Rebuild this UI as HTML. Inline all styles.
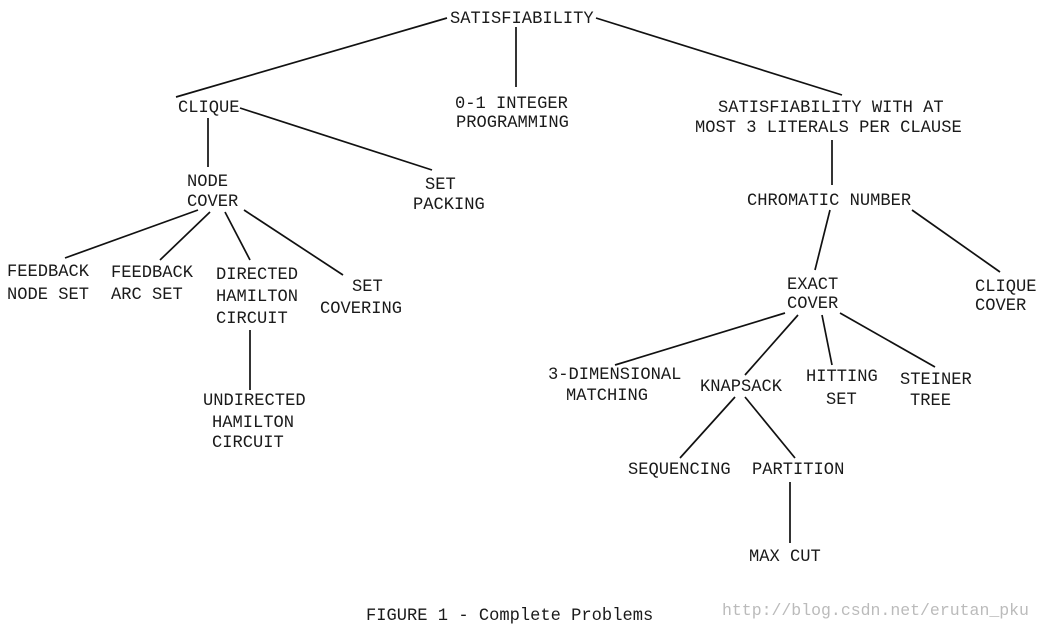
<!DOCTYPE html>
<html><head><meta charset="utf-8"><style>
html,body{margin:0;padding:0;background:#fff;}
svg{display:block;}
text{font-family:"Liberation Mono",monospace;font-size:17.1px;fill:#1a1a1a;}
</style></head><body>
<svg width="1042" height="631" viewBox="0 0 1042 631" xmlns="http://www.w3.org/2000/svg">
<g stroke="#111" stroke-width="1.7" fill="none">
<line x1="447" y1="18" x2="176" y2="97"/>
<line x1="516" y1="27" x2="516" y2="87"/>
<line x1="596" y1="18" x2="842" y2="95"/>
<line x1="240" y1="108" x2="432" y2="170"/>
<line x1="208" y1="118" x2="208" y2="167"/>
<line x1="198" y1="210" x2="65" y2="258"/>
<line x1="210" y1="212" x2="160" y2="260"/>
<line x1="225" y1="212" x2="250" y2="260"/>
<line x1="244" y1="210" x2="343" y2="275"/>
<line x1="250" y1="330" x2="250" y2="390"/>
<line x1="832" y1="140" x2="832" y2="185"/>
<line x1="830" y1="210" x2="815" y2="270"/>
<line x1="912" y1="210" x2="1000" y2="272"/>
<line x1="785" y1="313" x2="615" y2="365"/>
<line x1="798" y1="315" x2="745" y2="375"/>
<line x1="822" y1="315" x2="832" y2="365"/>
<line x1="840" y1="313" x2="935" y2="367"/>
<line x1="735" y1="397" x2="680" y2="458"/>
<line x1="745" y1="397" x2="795" y2="458"/>
<line x1="790" y1="482" x2="790" y2="543"/>
</g>
<text x="450" y="23">SATISFIABILITY</text>
<text x="178" y="112">CLIQUE</text>
<text x="455" y="108">0-1 INTEGER</text>
<text x="456" y="127">PROGRAMMING</text>
<text x="718" y="112">SATISFIABILITY WITH AT</text>
<text x="695" y="132">MOST 3 LITERALS PER CLAUSE</text>
<text x="187" y="186">NODE</text>
<text x="187" y="206">COVER</text>
<text x="425" y="189">SET</text>
<text x="413" y="209">PACKING</text>
<text x="747" y="205">CHROMATIC NUMBER</text>
<text x="7" y="276">FEEDBACK</text>
<text x="7" y="299">NODE SET</text>
<text x="111" y="277">FEEDBACK</text>
<text x="111" y="299">ARC SET</text>
<text x="216" y="279">DIRECTED</text>
<text x="216" y="301">HAMILTON</text>
<text x="216" y="323">CIRCUIT</text>
<text x="352" y="291">SET</text>
<text x="320" y="313">COVERING</text>
<text x="787" y="289">EXACT</text>
<text x="787" y="308">COVER</text>
<text x="975" y="291">CLIQUE</text>
<text x="975" y="310">COVER</text>
<text x="548" y="379">3-DIMENSIONAL</text>
<text x="566" y="400">MATCHING</text>
<text x="700" y="391">KNAPSACK</text>
<text x="806" y="381">HITTING</text>
<text x="826" y="404">SET</text>
<text x="900" y="384">STEINER</text>
<text x="910" y="405">TREE</text>
<text x="203" y="405">UNDIRECTED</text>
<text x="212" y="427">HAMILTON</text>
<text x="212" y="447">CIRCUIT</text>
<text x="628" y="474">SEQUENCING</text>
<text x="752" y="474">PARTITION</text>
<text x="749" y="561">MAX CUT</text>
<text x="366" y="620">FIGURE 1 - Complete Problems</text>
<text x="722" y="615" style="fill:#bbb;font-size:16.5px">http://blog.csdn.net/erutan_pku</text>
</svg>
</body></html>
